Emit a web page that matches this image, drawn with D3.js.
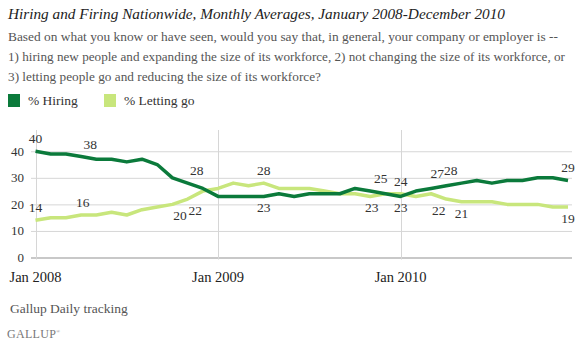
<!DOCTYPE html>
<html>
<head>
<meta charset="utf-8">
<script src="https://cdn.jsdelivr.net/npm/d3@7"></script>
<style>
  html, body { margin: 0; padding: 0; background: #fff; }
  svg { display: block; }
  text { font-family: "Liberation Serif", "DejaVu Serif", serif; }
</style>
</head>
<body>
<svg id="chart" width="579" height="354"></svg>
<script>
// ---- Data (monthly averages, Jan 2008 - Dec 2010) ----
const months = d3.range(36).map(i => new Date(2008, i, 1));
const hiring = [40,39,39,38,37,37,36,37,35,30,28,26,
                23,23,23,23,24,23,24,24,24,26,25,24,
                23,25,26,27,28,29,28,29,29,30,30,29];
const lettingGo = [14,15,15,16,16,17,16,18,19,20,22,25,
                   26,28,27,28,26,26,26,25,24,24,23,24,
                   24,23,24,22,21,21,21,20,20,20,19,19];
const seriesNames = ["% Hiring", "% Letting go"];
const yTicks = [0, 10, 20, 30, 40];
const xTickMonths = [0, 12, 24];
const xTickLabels = ["Jan 2008", "Jan 2009", "Jan 2010"];

// point labels (month position, text, side)
const labelAt     = [0, 3.6, 0, 3.1, 10.6, 9.5, 10.5, 15, 15, 22.7, 22.1, 24, 24, 26.4, 27.3, 26.5, 28, 35, 35];
const labelText   = ["40","38","14","16","28","20","22","28","23","25","23","24","23","27","28","22","21","29","19"];
const labelSide   = ["a","a","a","a","a","b","b","a","b","a","b","a","b","a","a","b","b","a","b"];

const title = "Hiring and Firing Nationwide, Monthly Averages, January 2008-December 2010";
const subtitle = [
  "Based on what you know or have seen, would you say that, in general, your company or employer is --",
  "1) hiring new people and expanding the size of its workforce, 2) not changing the size of its workforce, or",
  "3) letting people go and reducing the size of its workforce?"
];
const source = "Gallup Daily tracking";

const colors = ["#0b7a3b", "#c8e67c"];

const svg = d3.select("#chart");

// ---- Title & subtitle ----
svg.append("text").attr("x", 8).attr("y", 19)
  .attr("font-size", 15.5).attr("font-style", "italic").attr("fill", "#222")
  .attr("textLength", 497).attr("lengthAdjust", "spacingAndGlyphs")
  .text(title);

const subW = [550, 557, 313];
subtitle.forEach((s, i) => {
  svg.append("text").attr("x", 8).attr("y", 41 + i * 20)
    .attr("font-size", 12.5).attr("fill", "#555")
    .attr("textLength", subW[i]).attr("lengthAdjust", "spacingAndGlyphs")
    .text(s);
});

// ---- Legend ----
const legX = [8, 104];
seriesNames.forEach((n, i) => {
  svg.append("rect").attr("x", legX[i]).attr("y", 94).attr("width", 12).attr("height", 13)
    .attr("fill", colors[i]);
  svg.append("text").attr("x", legX[i] + 20).attr("y", 105)
    .attr("font-size", 13.5).attr("fill", "#333").text(n);
});

// ---- Scales ----
const x = d3.scaleLinear().domain([0, 35]).range([35.5, 568]);
const y = d3.scaleLinear().domain([0, 48]).range([257.5, 130]);
const gridRight = 572;

// horizontal gridlines & y labels
const g = svg.append("g");
g.selectAll("line.h").data(yTicks).join("line")
  .attr("x1", 31).attr("x2", gridRight)
  .attr("y1", d => y(d) + 0.5).attr("y2", d => y(d) + 0.5)
  .attr("stroke", d => d === 0 ? "#c8c8c8" : "#d6d6d6")
  .attr("stroke-width", d => d === 0 ? 2 : 1);
g.selectAll("text.yl").data(yTicks).join("text")
  .attr("x", 24).attr("y", d => y(d) + 4.5)
  .attr("text-anchor", "end").attr("font-size", 13).attr("fill", "#333")
  .text(d => d);

// vertical gridlines & x labels
g.selectAll("line.v").data(xTickMonths).join("line")
  .attr("x1", d => Math.round(x(d)) + 0.5).attr("x2", d => Math.round(x(d)) + 0.5)
  .attr("y1", y(48)).attr("y2", y(0) + 2)
  .attr("stroke", "#d6d6d6").attr("stroke-width", 1);
g.selectAll("text.xl").data(xTickMonths).join("text")
  .attr("x", d => x(d)).attr("y", 282)
  .attr("text-anchor", "middle").attr("font-size", 14.5).attr("fill", "#222")
  .text((d, i) => xTickLabels[i]);

// ---- Lines ----
const line = d3.line().x((d, i) => x(i)).y(d => y(d));
[lettingGo, hiring].forEach((vals, k) => {
  const ci = k === 0 ? 1 : 0;
  svg.append("path").datum(vals)
    .attr("d", line).attr("fill", "none")
    .attr("stroke", colors[ci]).attr("stroke-width", 3.5)
    .attr("stroke-linejoin", "round");
});

// ---- Point labels ----
labelAt.forEach((m, i) => {
  const v = +labelText[i];
  const cy = labelSide[i] === "a" ? y(v) - 12.5 : y(v) + 11.5;
  svg.append("text").attr("x", x(m)).attr("y", cy + 4.5)
    .attr("text-anchor", "middle").attr("font-size", 13.5).attr("fill", "#333")
    .text(labelText[i]);
});

// ---- Footer ----
svg.append("text").attr("x", 10).attr("y", 313)
  .attr("font-size", 13.5).attr("fill", "#555").text(source);
const logo = svg.append("text").attr("x", 7).attr("y", 338)
  .attr("font-size", 12).attr("fill", "#777").attr("letter-spacing", 0.3);
logo.append("tspan").text("GALLUP");
logo.append("tspan").attr("font-size", 5).attr("dy", -5).text("®");
</script>
</body>
</html>
